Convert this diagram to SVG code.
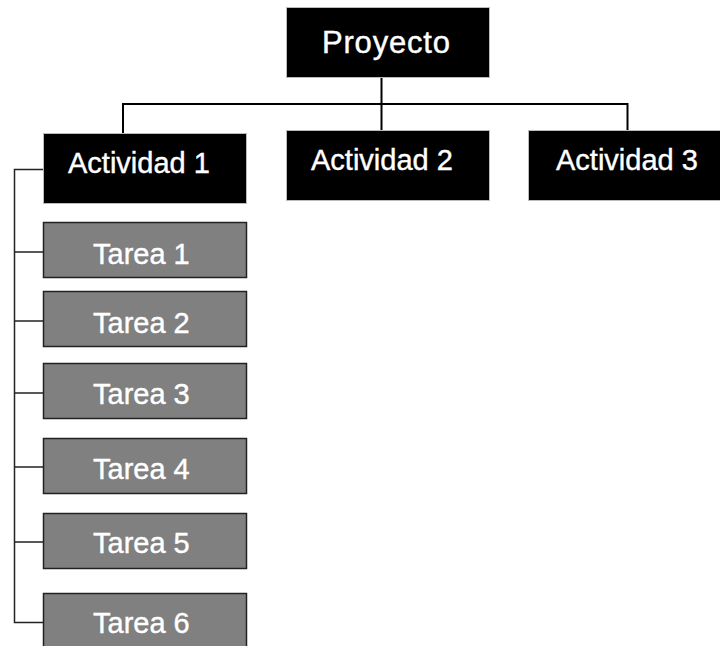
<svg xmlns="http://www.w3.org/2000/svg" width="720" height="646" viewBox="0 0 720 646">
<style>
.blk{fill:#000;stroke:#bbb;stroke-width:1}
.gry{fill:#808080;stroke:#222;stroke-width:1.5}
.t{font-family:"Liberation Sans",Arial,sans-serif;fill:#fff;stroke:#fff;stroke-width:0.4}
.c{fill:none;stroke:#000;stroke-width:2}
.cg{fill:none;stroke:#222;stroke-width:1.5}
</style>
<rect width="720" height="646" fill="#fff"/>
<g id="connectors">
<path class="c" d="M381.5 78V131M123 104H628M123 103V133M627.5 103V131"/>
<path class="cg" d="M43 169.5H14.5V622.5H43M14.5 252H43M14.5 321H43M14.5 393H43M14.5 467H43M14.5 542H43"/>
</g>
<g id="proyecto"><rect class="blk" x="286.5" y="7.5" width="203" height="70"/><text class="t" x="322" y="53" font-size="31" textLength="128">Proyecto</text></g>
<g id="actividad1"><rect class="blk" x="43.5" y="133.5" width="203" height="70"/><text class="t" x="68" y="173" font-size="29">Actividad 1</text></g>
<g id="actividad2"><rect class="blk" x="286.5" y="130.5" width="203" height="70"/><text class="t" x="311" y="170" font-size="29">Actividad 2</text></g>
<g id="actividad3"><rect class="blk" x="528.5" y="130.5" width="200" height="70"/><text class="t" x="556" y="170" font-size="29">Actividad 3</text></g>
<g id="tarea1"><rect class="gry" x="43.5" y="222.5" width="203" height="55"/><text class="t" x="93" y="264" font-size="29">Tarea 1</text></g>
<g id="tarea2"><rect class="gry" x="43.5" y="291.5" width="203" height="55"/><text class="t" x="93" y="333" font-size="29">Tarea 2</text></g>
<g id="tarea3"><rect class="gry" x="43.5" y="363.5" width="203" height="55"/><text class="t" x="93" y="404" font-size="29">Tarea 3</text></g>
<g id="tarea4"><rect class="gry" x="43.5" y="438.5" width="203" height="55"/><text class="t" x="93" y="479" font-size="29">Tarea 4</text></g>
<g id="tarea5"><rect class="gry" x="43.5" y="513.5" width="203" height="55"/><text class="t" x="93" y="553" font-size="29">Tarea 5</text></g>
<g id="tarea6"><rect class="gry" x="43.5" y="593.5" width="203" height="60"/><text class="t" x="93" y="633" font-size="29">Tarea 6</text></g>
</svg>
